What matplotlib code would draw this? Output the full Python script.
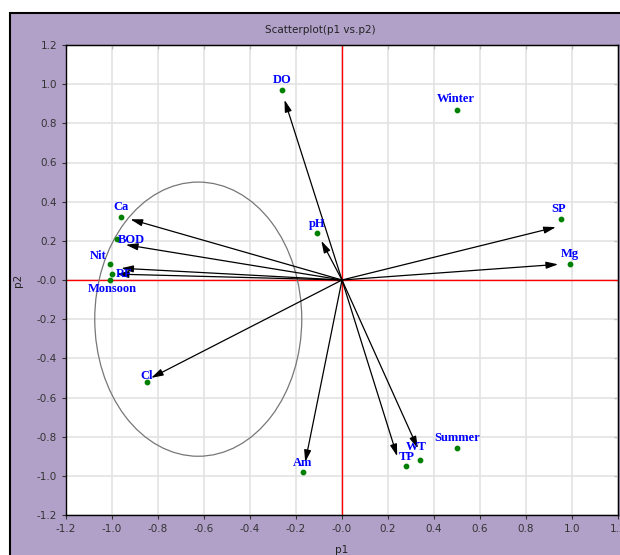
import matplotlib as mpl
mpl.use("Agg")
import matplotlib.pyplot as plt
from matplotlib.patches import Ellipse, Rectangle, FancyArrowPatch
import numpy as np

# scores / loadings
names = ["DO", "Winter", "SP", "Mg", "pH", "Ca", "BOD", "Nit", "RF", "Monsoon",
         "Cl", "Am", "TP", "WT", "Summer"]
p1 = [-0.26, 0.50, 0.95, 0.99, -0.11, -0.96, -0.98, -1.01, -1.00, -1.01,
      -0.85, -0.17, 0.28, 0.34, 0.50]
p2 = [0.97, 0.87, 0.31, 0.08, 0.24, 0.32, 0.21, 0.08, 0.03, 0.00,
      -0.52, -0.98, -0.95, -0.92, -0.86]

# arrows from origin (variables only)
arrow_names = ["DO", "SP", "Mg", "pH", "Ca", "BOD", "Nit", "RF", "Cl", "Am", "TP", "WT"]
arrow_x = [-0.25, 0.93, 0.94, -0.09, -0.92, -0.94, -0.96, -0.98, -0.83, -0.16, 0.24, 0.33]
arrow_y = [0.92, 0.27, 0.08, 0.20, 0.31, 0.18, 0.06, 0.03, -0.50, -0.93, -0.90, -0.86]

# confidence ellipse
ell_center = (-0.625, -0.20)
ell_w, ell_h = 0.90, 1.40

# label offsets in points (dx, dy, ha)
label_off = {
    "DO": (0, 3, "center"), "Winter": (-1, 3, "center"), "SP": (-1, 3, "center"),
    "Mg": (0, 3, "center"), "pH": (0, 2, "center"), "Ca": (0, 3, "center"),
    "BOD": (1, -5, "left"), "Nit": (-2, 2, "right"), "RF": (3, -4, "left"),
    "Monsoon": (-16, -11, "left"), "Cl": (0, 0, "center"), "Am": (0, 2, "center"),
    "TP": (0, 2, "center"), "WT": (-3, 5, "center"), "Summer": (0, 3, "center"),
}

purple = "#b1a1c9"
W, H = 620, 555
fig = plt.figure(figsize=(W / 100, H / 100), dpi=100, facecolor="white")
fig.patches.append(Rectangle((10 / W, -0.01), 1.0, (H - 13) / H + 0.01,
                             transform=fig.transFigure, facecolor=purple,
                             edgecolor="black", linewidth=1.5, zorder=-5))

ax = fig.add_axes([66 / W, 40 / H, (618 - 66) / W, (515 - 45) / H])
ax.set_facecolor("white")
ax.set_xlim(-1.2, 1.2)
ax.set_ylim(-1.2, 1.2)
ticks = np.round(np.arange(-1.2, 1.21, 0.2), 1)
ax.set_xticks(ticks)
ax.set_yticks(ticks)
ax.set_xticklabels([f"{t:.1f}" for t in ticks])
ax.set_yticklabels([f"{t:.1f}" for t in ticks])
ax.grid(True, color="#e3e3e3", linewidth=1.2)
ax.set_axisbelow(True)
ax.tick_params(labelsize=7.5, colors="#333333", length=3, direction="out")
for s in ax.spines.values():
    s.set_color("black")
    s.set_linewidth(1.0)

# inward ticks on top and right edges
top = ax.secondary_xaxis("top")
top.set_xticks(ticks)
top.tick_params(direction="in", length=3, labeltop=False)
right = ax.secondary_yaxis("right")
right.set_yticks(ticks)
right.tick_params(direction="in", length=3, labelright=False)

ax.axhline(0, color="red", lw=1.0, zorder=1)
ax.axvline(0, color="red", lw=1.0, zorder=1)

ax.add_patch(Ellipse(ell_center, ell_w, ell_h, fill=False, edgecolor="#777777",
                     lw=0.9, zorder=2))

for ax_, ay_ in zip(arrow_x, arrow_y):
    ax.add_patch(FancyArrowPatch((0, 0), (ax_, ay_),
                                 arrowstyle="-|>,head_length=5.5,head_width=1.6",
                                 mutation_scale=1.3, color="black", lw=0.9,
                                 shrinkA=0, shrinkB=0, zorder=3))

ax.scatter(p1, p2, s=10, color="green", zorder=4)
for n, x, y in zip(names, p1, p2):
    dx, dy, ha = label_off[n]
    ax.annotate(n, (x, y), xytext=(dx, dy), textcoords="offset points",
                ha=ha, va="bottom", fontsize=9, fontweight="bold",
                family="Liberation Serif", color="blue", zorder=5)

fig.text(320 / W, (H - 30) / H, "Scatterplot(p1 vs.p2)", ha="center",
         va="center", fontsize=7.5, color="#222222")
ax.set_xlabel("p1", fontsize=7.5, color="#222222", labelpad=8)
ax.set_ylabel("p2", fontsize=7.5, color="#222222", labelpad=10)

fig.savefig("out.png", dpi=100, facecolor=fig.get_facecolor())
